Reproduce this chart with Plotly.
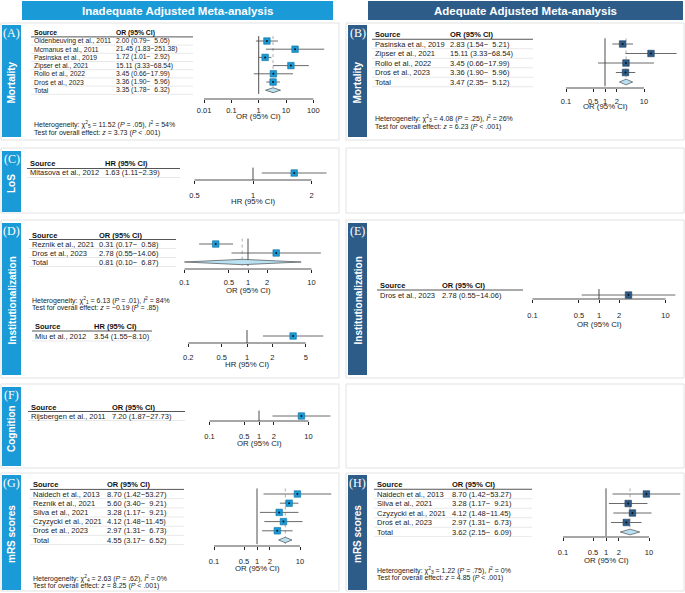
import numpy as np
import plotly.graph_objects as go

# ---------------- data ----------------
a_src = ["Oldenbeuving et al., 2011", "Mcmanus et al., 2011", "Pasinska et al., 2019",
         "Zipser et al., 2021", "Rollo et al., 2022", "Droś et al., 2023"]
a_est = [2.00, 21.45, 1.72, 15.11, 3.45, 3.36]
a_lo = [0.79, 1.83, 1.01, 3.33, 0.66, 1.90]
a_hi = [5.05, 251.38, 2.92, 68.54, 17.99, 5.96]
a_total = [3.35, 1.78, 6.32]

b_src = ["Pasinska et al., 2019", "Zipser et al., 2021", "Rollo et al., 2022", "Droś et al., 2023"]
b_est = [2.83, 15.11, 3.45, 3.36]
b_lo = [1.54, 3.33, 0.66, 1.90]
b_hi = [5.21, 68.54, 17.99, 5.96]
b_total = [3.47, 2.35, 5.12]

c_src = ["Mitasova et al., 2012"]
c_est = [1.63]
c_lo = [1.11]
c_hi = [2.39]

d1_src = ["Reznik et al., 2021", "Dros et al., 2023"]
d1_est = [0.31, 2.78]
d1_lo = [0.17, 0.55]
d1_hi = [0.58, 14.06]
d1_total = [0.81, 0.10, 6.87]

d2_src = ["Miu et al., 2012"]
d2_est = [3.54]
d2_lo = [1.55]
d2_hi = [8.10]

e_src = ["Dros et al., 2023"]
e_est = [2.78]
e_lo = [0.55]
e_hi = [14.06]

f_src = ["Rijsbergen et al., 2011"]
f_est = [7.20]
f_lo = [1.87]
f_hi = [27.73]

g_src = ["Naidech et al., 2013", "Reznik et al., 2021", "Silva et al., 2021",
         "Czyzycki et al., 2021", "Droś et al., 2023"]
g_est = [8.70, 5.60, 3.28, 4.12, 2.97]
g_lo = [1.42, 3.40, 1.17, 1.48, 1.31]
g_hi = [53.27, 9.21, 9.21, 11.45, 6.73]
g_total = [4.55, 3.17, 6.52]

h_src = ["Naidech et al., 2013", "Silva et al., 2021", "Czyzycki et al., 2021", "Droś et al., 2023"]
h_est = [8.70, 3.28, 4.12, 2.97]
h_lo = [1.42, 1.17, 1.48, 1.31]
h_hi = [53.27, 9.21, 11.45, 6.73]
h_total = [3.62, 2.15, 6.09]

ticks_a = [0.01, 0.1, 1, 10, 100]
ticks_std = [0.1, 0.5, 1, 2, 10]
ticks_c = [0.5, 1, 2]
ticks_d2 = [0.2, 0.5, 1, 2, 5]

het_a = ["Heterogeneity: χ<sup>2</sup><sub>5</sub> = 11.52 (<i>P</i> = .05), <i>I</i><sup>2</sup> = 54%",
         "Test for overall effect: <i>z</i> = 3.73 (<i>P</i> &lt; .001)"]
het_b = ["Heterogeneity: χ<sup>2</sup><sub>3</sub> = 4.08 (<i>P</i> = .25), <i>I</i><sup>2</sup> = 26%",
         "Test for overall effect: <i>z</i> = 6.23 (<i>P</i> &lt; .001)"]
het_d = ["Heterogeneity: χ<sup>2</sup><sub>1</sub> = 6.13 (<i>P</i> = .01), <i>I</i><sup>2</sup> = 84%",
         "Test for overall effect: <i>z</i> = −0.19 (<i>P</i> = .85)"]
het_g = ["Heterogeneity: χ<sup>2</sup><sub>4</sub> = 2.63 (<i>P</i> = .62), <i>I</i><sup>2</sup> = 0%",
         "Test for overall effect: <i>z</i> = 8.25 (<i>P</i> &lt; .001)"]
het_h = ["Heterogeneity: χ<sup>2</sup><sub>3</sub> = 1.22 (<i>P</i> = .75), <i>I</i><sup>2</sup> = 0%",
         "Test for overall effect: <i>z</i> = 4.85 (<i>P</i> &lt; .001)"]

# ---------------- style ----------------
W, H = 685, 593
FONT = "Liberation Sans"
LIGHT = "#1a9ad6"
LIGHT_EDGE = "#0f6f9e"
DARK = "#2d5c88"
DARK_EDGE = "#1d3d5c"
DIAMOND = "#b9e1f1"

fig = go.Figure()
shapes, annots, axes = [], [], {}


def fx(x):
    return x / W


def fy(y):
    return 1 - y / H


def ci_text(e, l, h, pad):
    hs = f"{h:.2f}"
    if pad:
        hs = hs.rjust(5, "\u2007")
    return f"{e:.2f} ({l:.2f}−{hs})"


def add_forest(n, src, est, lo, hi, total, measure, color, edge, g, het=None, pad=True):
    xa = "x" if n == 1 else f"x{n}"
    ya = "y" if n == 1 else f"y{n}"
    xk = "xaxis" if n == 1 else f"xaxis{n}"
    yk = "yaxis" if n == 1 else f"yaxis{n}"
    k = len(src)
    nrows = k + (1 if total else 0)
    row0, sp, axis_y = g["row0"], g["sp"], g["axis_y"]
    bottom = (axis_y - row0) / sp
    top = -1.7
    fs = g.get("fs", 7.5)

    axes[yk] = dict(domain=[fy(axis_y), fy(row0 + top * sp)], range=[bottom, top],
                    visible=False, fixedrange=True)
    x0, x1 = g["x0"], g["x1"]
    axes[xk] = dict(type="log", domain=[fx(x0), fx(x1)],
                    range=[(x0 - g["one"]) / g["ppd"], (x1 - g["one"]) / g["ppd"]],
                    anchor=ya, tickvals=g["ticks"], ticktext=[f"{t:g}" for t in g["ticks"]],
                    ticks="outside", ticklen=3, tickwidth=0.8, tickcolor="#222",
                    showline=False, showgrid=False, zeroline=False, fixedrange=True,
                    tickfont=dict(family=FONT, size=7.5, color="#222"),
                    ticklabelstandoff=max(0, g["lab"] - 9))

    # axis line between the end ticks
    shapes.append(dict(type="line", xref=xa, yref=f"{ya} domain", x0=g["ticks"][0], x1=g["ticks"][-1],
                       y0=0, y1=0, line=dict(color="#222", width=0.8)))

    ref_end = (nrows - 1 + 0.45) if nrows > 1 else bottom
    fig.add_trace(go.Scatter(x=[1, 1], y=[-0.6, ref_end], mode="lines", xaxis=xa, yaxis=ya,
                             line=dict(color="#222", width=0.8), hoverinfo="skip"))
    if total:
        fig.add_trace(go.Scatter(x=[total[0], total[0]], y=[-0.6, nrows - 1 + 0.45], mode="lines",
                                 xaxis=xa, yaxis=ya, line=dict(color="#999", width=0.8, dash="dot"),
                                 hoverinfo="skip"))

    wx, wy = [], []
    for i in range(k):
        wx += [lo[i], hi[i], None]
        wy += [i, i, None]
    fig.add_trace(go.Scatter(x=wx, y=wy, mode="lines", xaxis=xa, yaxis=ya,
                             line=dict(color="#444", width=0.8), hoverinfo="skip"))
    fig.add_trace(go.Scatter(x=est, y=list(range(k)), mode="markers", xaxis=xa, yaxis=ya,
                             marker=dict(symbol="square", size=g.get("ms", 6.5), color=color,
                                         line=dict(color=edge, width=0.6))))
    fig.add_trace(go.Scatter(x=est, y=list(range(k)), mode="markers", xaxis=xa, yaxis=ya,
                             marker=dict(symbol="circle", size=2, color="#111"), hoverinfo="skip"))
    if total:
        te, tl, th = total
        fig.add_trace(go.Scatter(x=[tl, te, th, te, tl], y=[k, k - 0.3, k, k + 0.3, k],
                                 mode="lines", fill="toself", fillcolor=DIAMOND, xaxis=xa, yaxis=ya,
                                 line=dict(color="#333", width=0.6), hoverinfo="skip"))

    # table
    txt = dict(xref="paper", yref=ya, showarrow=False, xanchor="left", yanchor="middle")
    annots.append(dict(txt, x=fx(g["src_x"]), y=-1, text="<b>Source</b>",
                       font=dict(family=FONT, size=fs, color="#111")))
    annots.append(dict(txt, x=fx(g["ci_x"]), y=-1, text=f"<b>{measure} (95% CI)</b>",
                       font=dict(family=FONT, size=fs, color="#111")))
    labels = list(src) + (["Total"] if total else [])
    cis = [ci_text(est[i], lo[i], hi[i], pad) for i in range(k)]
    if total:
        cis.append(ci_text(total[0], total[1], total[2], pad))
    for i in range(nrows):
        annots.append(dict(txt, x=fx(g["src_x"]), y=i, text=labels[i],
                           font=dict(family=FONT, size=fs, color="#222")))
        annots.append(dict(txt, x=fx(g["ci_x"]), y=i, text=cis[i],
                           font=dict(family=FONT, size=fs, color="#222")))
    shapes.append(dict(type="line", xref="paper", yref=ya, x0=fx(g["src_x"] - 1), x1=fx(g["tab_r"]),
                       y0=-0.5, y1=-0.5, line=dict(color="#555", width=1)))
    for i in range(nrows):
        shapes.append(dict(type="line", xref="paper", yref=ya, x0=fx(g["src_x"] - 1), x1=fx(g["tab_r"]),
                           y0=i + 0.5, y1=i + 0.5, line=dict(color="#d8d8d8", width=0.6)))

    annots.append(dict(xref="paper", yref="paper", x=fx(g["one"]), y=fy(g["title_y"]),
                       text=f"{measure} (95% CI)", showarrow=False, xanchor="center", yanchor="middle",
                       font=dict(family=FONT, size=7.8, color="#222")))
    if het:
        for line, yy in zip(het, g["het_y"]):
            annots.append(dict(xref="paper", yref="paper", x=fx(g["src_x"]), y=fy(yy), text=line,
                               showarrow=False, xanchor="left", yanchor="middle",
                               font=dict(family=FONT, size=7, color="#222")))


def add_box(x0, x1, y0, y1):
    shapes.append(dict(type="rect", xref="paper", yref="paper", x0=fx(x0), x1=fx(x1), y0=fy(y1), y1=fy(y0),
                       line=dict(color="#e2e2e2", width=1), fillcolor="rgba(0,0,0,0)", layer="below"))


def add_strip(x0, x1, y0, y1, color, tag, label):
    shapes.append(dict(type="rect", xref="paper", yref="paper", x0=fx(x0), x1=fx(x1), y0=fy(y1), y1=fy(y0),
                       fillcolor=color, line=dict(width=0), layer="below"))
    annots.append(dict(xref="paper", yref="paper", x=fx((x0 + x1) / 2), y=fy(y0 + 8), text=tag,
                       showarrow=False, xanchor="center", yanchor="middle",
                       font=dict(family="Liberation Serif", size=12, color="white")))
    annots.append(dict(xref="paper", yref="paper", x=fx((x0 + x1) / 2), y=fy((y0 + y1) / 2 + 2),
                       text=f"<b>{label}</b>", textangle=-90, showarrow=False,
                       xanchor="center", yanchor="middle",
                       font=dict(family=FONT, size=10, color="white")))


def add_header(x0, x1, color, text):
    shapes.append(dict(type="rect", xref="paper", yref="paper", x0=fx(x0), x1=fx(x1), y0=fy(20), y1=fy(1),
                       fillcolor=color, line=dict(width=0), layer="below"))
    annots.append(dict(xref="paper", yref="paper", x=fx((x0 + x1) / 2), y=fy(10.5), text=f"<b>{text}</b>",
                       showarrow=False, xanchor="center", yanchor="middle",
                       font=dict(family=FONT, size=11.5, color="white")))


# panel frames
for (y0, y1) in [(23, 140), (148, 213), (220, 378), (384, 468), (473, 591)]:
    add_box(1, 339, y0, y1)
    add_box(346, 684, y0, y1)

add_header(22, 333, LIGHT, "Inadequate Adjusted Meta-analysis")
add_header(368, 683, DARK, "Adequate Adjusted Meta-analysis")

for (y0, y1, tag, lab) in [(25, 137, "(A)", "Mortality"), (151, 212, "(C)", "LoS"),
                           (223, 375, "(D)", "Institutionalization"), (387, 466, "(F)", "Cognition"),
                           (475, 590, "(G)", "mRS scores")]:
    add_strip(2, 21, y0, y1, LIGHT, tag, lab)
for (y0, y1, tag, lab) in [(25, 137, "(B)", "Mortality"), (223, 375, "(E)", "Institutionalization"),
                           (475, 590, "(H)", "mRS scores")]:
    add_strip(348, 367, y0, y1, DARK, tag, lab)

# forest plots
add_forest(1, a_src, a_est, a_lo, a_hi, a_total, "OR", LIGHT, LIGHT_EDGE,
           dict(src_x=32, ci_x=114, tab_r=193, row0=41, sp=8.2, axis_y=99, x0=196, x1=337,
                one=258.7, ppd=27.3, ticks=ticks_a, lab=10, title_y=117, het_y=(125, 133), fs=6.8),
           het=het_a)
add_forest(2, b_src, b_est, b_lo, b_hi, b_total, "OR", DARK, DARK_EDGE,
           dict(src_x=373, ci_x=448, tab_r=533, row0=44, sp=9.5, axis_y=88, x0=536, x1=683,
                one=605, ppd=39, ticks=ticks_std, lab=12, title_y=107, het_y=(118, 127)),
           het=het_b)
add_forest(3, c_src, c_est, c_lo, c_hi, None, "HR", LIGHT, LIGHT_EDGE,
           dict(src_x=28, ci_x=103, tab_r=180, row0=173, sp=9, axis_y=180, x0=183, x1=337,
                one=253, ppd=194.3, ticks=ticks_c, lab=14, title_y=201), pad=False)
add_forest(4, d1_src, d1_est, d1_lo, d1_hi, d1_total, "OR", LIGHT, LIGHT_EDGE,
           dict(src_x=30, ci_x=97, tab_r=176, row0=244, sp=9, axis_y=269, x0=179, x1=337,
                one=248, ppd=63.5, ticks=ticks_std, lab=12, title_y=290, het_y=(300, 308)),
           het=het_d)
add_forest(5, d2_src, d2_est, d2_lo, d2_hi, None, "HR", LIGHT, LIGHT_EDGE,
           dict(src_x=33, ci_x=92, tab_r=152, row0=336, sp=10, axis_y=343, x0=160, x1=337,
                one=247, ppd=84, ticks=ticks_d2, lab=13, title_y=364), pad=False)
add_forest(6, e_src, e_est, e_lo, e_hi, None, "OR", DARK, DARK_EDGE,
           dict(src_x=378, ci_x=440, tab_r=523, row0=295, sp=10, axis_y=299, x0=526, x1=683,
                one=599, ppd=66.5, ticks=ticks_std, lab=15, title_y=324), pad=False)
add_forest(7, f_src, f_est, f_lo, f_hi, None, "OR", LIGHT, LIGHT_EDGE,
           dict(src_x=29, ci_x=110, tab_r=185, row0=416, sp=9, axis_y=421, x0=195, x1=337,
                one=259, ppd=49.5, ticks=ticks_std, lab=14, title_y=443), pad=False)
add_forest(8, g_src, g_est, g_lo, g_hi, g_total, "OR", LIGHT, LIGHT_EDGE,
           dict(src_x=31, ci_x=105, tab_r=184, row0=494, sp=9.2, axis_y=546, x0=190, x1=337,
                one=257, ppd=43, ticks=ticks_std, lab=14, title_y=568, het_y=(578, 586)),
           het=het_g)
add_forest(9, h_src, h_est, h_lo, h_hi, h_total, "OR", DARK, DARK_EDGE,
           dict(src_x=375, ci_x=450, tab_r=532, row0=494, sp=9.5, axis_y=537, x0=540, x1=683,
                one=606, ppd=43, ticks=ticks_std, lab=14, title_y=560, het_y=(570, 578)),
           het=het_h)

fig.update_layout(
    width=W, height=H,
    margin=dict(l=0, r=0, t=0, b=0),
    paper_bgcolor="white",
    plot_bgcolor="rgba(0,0,0,0)",
    showlegend=False,
    shapes=shapes,
    annotations=annots,
    font=dict(family=FONT),
    **axes
)

# the page body has a default 8px margin; drop it so the figure sits at the window corner
fig.write_html("out.html", config={"displayModeBar": False},
               post_script="document.body.style.margin='0px';")
